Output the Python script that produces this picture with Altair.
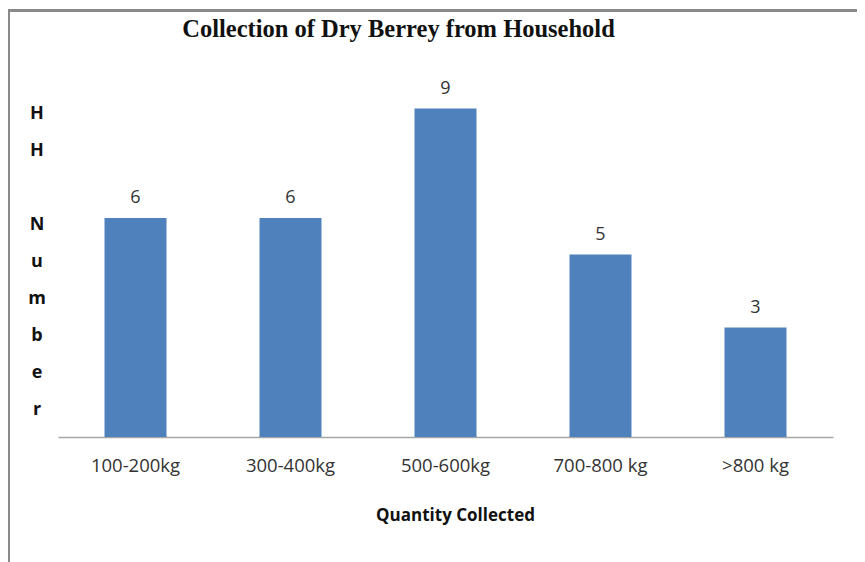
import altair as alt
import pandas as pd

categories = ["100-200kg", "300-400kg", "500-600kg", "700-800 kg", ">800 kg"]
hh_numbers = [6, 6, 9, 5, 3]

title_text = "Collection of Dry Berrey from Household"
y_title_lines = ["H", "H", "\u200b", "N", "u", "m", "b", "e", "r"]
x_title = "Quantity Collected"

df = pd.DataFrame({"cat": categories, "n": hh_numbers})

x_enc = alt.X(
    "cat:N",
    sort=categories,
    scale=alt.Scale(paddingInner=0.6, paddingOuter=0.3),
    axis=alt.Axis(
        title=x_title,
        labelAngle=0,
        labelFont="Open Sans",
        labelFontSize=18.5,
        labelColor="#333333",
        labelPadding=19,
        ticks=False,
        domainColor="#a6a6a6",
        domainWidth=1.5,
        titleFont="Open Sans",
        titleFontSize=17,
        titleFontWeight="bold",
        titleColor="#111111",
        titleX=397,
        titleY=78,
        titleAnchor="start",
        titleAlign="center",
        titleBaseline="middle",
    ),
)
y_enc = alt.Y(
    "n:Q",
    scale=alt.Scale(domain=[0, 10]),
    axis=alt.Axis(
        title=y_title_lines,
        titleAngle=0,
        titleAlign="center",
        titleBaseline="alphabetic",
        titleX=-21.5,
        titleY=46,
        titleLineHeight=37.1,
        titleFont="Open Sans",
        titleFontSize=18,
        titleFontWeight="bold",
        titleColor="#111111",
        labels=False,
        ticks=False,
        domain=False,
        grid=False,
    ),
)

bars = alt.Chart(df).mark_bar(color="#4f81bd").encode(x=x_enc, y=y_enc)

labels = alt.Chart(df).mark_text(
    dy=-15, baseline="alphabetic", font="Open Sans", fontSize=18, color="#333333"
).encode(x=alt.X("cat:N", sort=categories), y="n:Q", text="n:Q")

frame_df = pd.DataFrame({"a": [0]})
title_mark = alt.Chart(pd.DataFrame({"t": [title_text]})).mark_text(
    font="Liberation Serif",
    fontSize=24.5,
    fontWeight="bold",
    color="#111111",
    align="center",
    baseline="middle",
).encode(x=alt.value(340.5), y=alt.value(-42), text="t:N")

top_line = alt.Chart(frame_df).mark_rule(color="#8a8a8a", strokeWidth=3).encode(
    x=alt.value(-50), x2=alt.value(820), y=alt.value(-61.5)
)
left_line = alt.Chart(frame_df).mark_rule(color="#8a8a8a", strokeWidth=2).encode(
    x=alt.value(-49), y=alt.value(-62), y2=alt.value(520)
)

chart = (
    alt.layer(bars, labels, title_mark, top_line, left_line)
    .properties(
        width=775,
        height=365,
        autosize=alt.AutoSizeParams(type="none"),
        padding={"left": 50, "top": 64, "right": 24, "bottom": 125},
        background="white",
    )
    .configure_view(stroke=None)
)

chart.save("out.html", embed_options={"renderer": "svg", "actions": False})
